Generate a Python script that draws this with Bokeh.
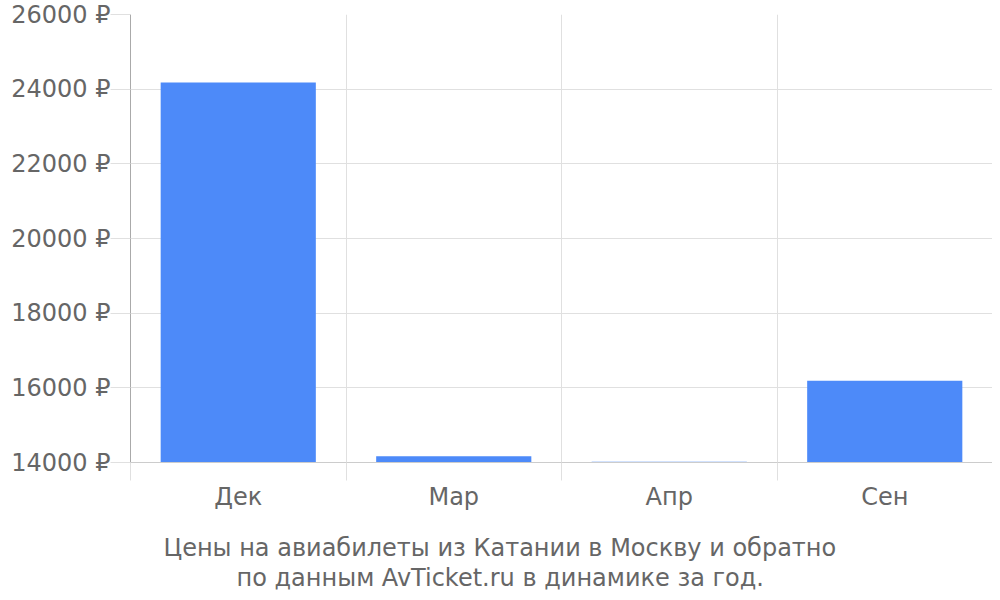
from bokeh.plotting import figure
from bokeh.models import FixedTicker, Range1d, Title, ColumnDataSource
from bokeh.embed import file_html
from bokeh.resources import INLINE

months = ["Дек", "Мар", "Апр", "Сен"]
prices = [24180, 14170, 14020, 16190]
y_ticks = [14000, 16000, 18000, 20000, 22000, 24000, 26000]
y_labels = [f"{t} ₽" for t in y_ticks]
caption_lines = ["Цены на авиабилеты из Катании в Москву и обратно",
                 "по данным AvTicket.ru в динамике за год."]

FONT = "DejaVu Sans"
TXT = "#666666"
FS = "24px"

xs = [i + 0.5 for i in range(len(months))]
bounds = list(range(len(months) + 1))
src = ColumnDataSource(dict(x=xs, top=prices))

p = figure(width=992, height=592, x_range=Range1d(0, len(months)),
           y_range=Range1d(y_ticks[0], y_ticks[-1]),
           output_backend="svg", toolbar_location=None,
           min_border_left=130, min_border_right=0, min_border_top=14,
           min_border_bottom=130)
p.outline_line_color = None
p.background_fill_color = "white"
p.border_fill_color = "white"

p.vbar(x="x", top="top", bottom=y_ticks[0], width=0.72, source=src,
       fill_color="#4d8af9", line_color=None)

# x axis
xa = p.xaxis[0]
xa.ticker = FixedTicker(ticks=xs, minor_ticks=bounds)
xa.major_label_overrides = {x: m for x, m in zip(xs, months)}
xa.major_tick_out = 0
xa.major_tick_in = 0
xa.minor_tick_out = 18
xa.minor_tick_in = 0
xa.minor_tick_line_color = "#e0e0e0"
xa.axis_line_color = "#cccccc"
xa.major_label_text_font = FONT
xa.major_label_text_font_size = FS
xa.major_label_text_color = TXT
xa.major_label_standoff = 2

# y axis
ya = p.yaxis[0]
ya.ticker = FixedTicker(ticks=y_ticks, minor_ticks=[])
ya.major_label_overrides = {t: l for t, l in zip(y_ticks, y_labels)}
ya.major_tick_out = 20
ya.major_tick_in = 0
ya.major_tick_line_color = "#e0e0e0"
ya.axis_line_color = "#aaaaaa"
ya.major_label_text_font = FONT
ya.major_label_text_font_size = FS
ya.major_label_text_color = TXT
ya.major_label_standoff = 0

p.xgrid.ticker = FixedTicker(ticks=bounds)
p.xgrid.grid_line_color = "#e0e0e0"
p.ygrid.ticker = FixedTicker(ticks=y_ticks)
p.ygrid.grid_line_color = "#e0e0e0"

# spacer between axis labels and caption
p.add_layout(Title(text=" ", standoff=15, text_font_size="1px"), "below")
for line, off in zip(caption_lines, [33, 106]):
    p.add_layout(Title(text=line, align="left", offset=off, standoff=0,
                       text_font=FONT, text_font_size=FS, text_color=TXT,
                       text_font_style="normal"), "below")

open("out.html", "w").write(file_html(p, INLINE))
